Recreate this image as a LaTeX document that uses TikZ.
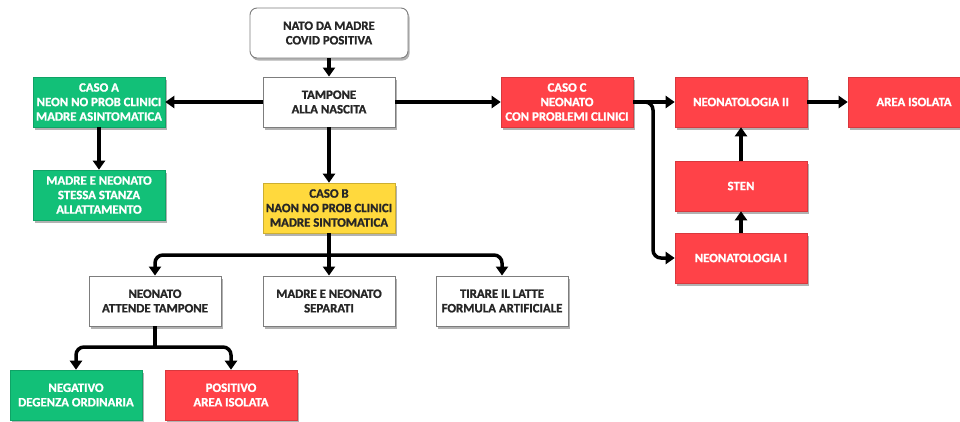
\documentclass[tikz,border=0pt]{standalone}
\usepackage{fontspec}
\setmainfont[BoldFont={Carlito Bold}, BoldFeatures={FakeBold=1.2}]{Carlito}
\usetikzlibrary{arrows.meta,shadows}
\definecolor{cgreen}{RGB}{18,192,120}
\definecolor{cred}{RGB}{255,66,72}
\definecolor{cyellow}{RGB}{255,217,61}
\definecolor{cgray}{RGB}{125,125,125}
\begin{document}
\begin{tikzpicture}[x=1pt,y=-1pt,
 box/.style={rectangle, minimum width=132pt, minimum height=50pt, align=center,
   font={\fontsize{12.8}{14.5}\selectfont\bfseries}, inner sep=2pt,
   drop shadow={shadow xshift=1.5pt,shadow yshift=-2.5pt,opacity=0.3,fill=black}},
 wbox/.style={box, fill=white, draw=cgray, line width=0.9pt, text=black!85},
 gbox/.style={box, fill=cgreen, draw=cgreen!85!black, line width=0.6pt, text=white},
 rbox/.style={box, fill=cred, draw=cred!85!black, line width=0.6pt, text=white},
 ybox/.style={box, fill=cyellow, draw=cyellow!80!black, line width=0.6pt, text=black!85},
 conn/.style={line width=3.5pt, -{Triangle[length=9pt,width=12pt]}, rounded corners=8pt},
 plain/.style={line width=3.5pt}]
\clip (0,0) rectangle (960,421);
\fill[white] (0,0) rectangle (960,421);

\node[wbox, rounded corners=7pt, minimum width=158pt] (nato) at (329,33) {NATO DA MADRE\\COVID POSITIVA};
\node[wbox] (tamp) at (329,102) {TAMPONE\\ALLA NASCITA};
\node[gbox] (casoa) at (99,102) {CASO A\\NEON NO PROB CLINICI\\MADRE ASINTOMATICA};
\node[gbox] (stessa) at (99,195) {MADRE E NEONATO\\STESSA STANZA\\ALLATTAMENTO};
\node[ybox] (casob) at (329,208) {CASO B\\NAON NO PROB CLINICI\\MADRE SINTOMATICA};
\node[rbox] (casoc) at (567,102) {CASO C\\NEONATO\\CON PROBLEMI CLINICI};
\node[rbox] (neo2) at (741,102) {NEONATOLOGIA II};
\node[rbox] (area) at (914,102) {AREA ISOLATA};
\node[rbox] (sten) at (741,186) {STEN};
\node[rbox] (neo1) at (741,258) {NEONATOLOGIA I};
\node[wbox] (attende) at (155,301) {NEONATO\\ATTENDE TAMPONE};
\node[wbox] (separati) at (329,301) {MADRE E NEONATO\\SEPARATI};
\node[wbox] (tirare) at (502,301) {TIRARE IL LATTE\\FORMULA ARTIFICIALE};
\node[gbox] (neg) at (76,395) {NEGATIVO\\DEGENZA ORDINARIA};
\node[rbox] (pos) at (231,395) {POSITIVO\\AREA ISOLATA};

\coordinate (cbr) at (653,102);
\coordinate (busb) at (329,255);
\coordinate (busn) at (155,347);

\draw[conn] (nato) -- (tamp);
\draw[conn] (tamp) -- (casoa);
\draw[conn] (tamp) -- (casoc);
\draw[conn] (casoa) -- (stessa);
\draw[conn] (tamp) -- (casob);
\draw[conn] (casoc) -- (neo2);
\draw[conn] (casoc.east) -- (cbr) |- (neo1.west);
\draw[conn] (neo2) -- (area);
\draw[conn] (neo1) -- (sten);
\draw[conn] (sten) -- (neo2);
\draw[conn] (casob) -- (separati);
\draw[conn] (busb) -| (attende.north);
\draw[conn] (busb) -| (tirare.north);
\draw[plain] (attende) -- (busn);
\draw[conn] (busn) -| (neg.north);
\draw[conn] (busn) -| (pos.north);
\end{tikzpicture}
\end{document}
